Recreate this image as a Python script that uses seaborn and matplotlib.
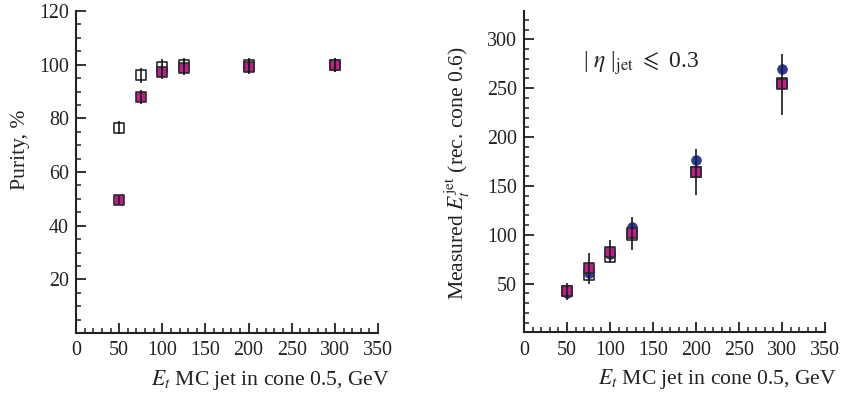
import matplotlib
matplotlib.use("Agg")
import matplotlib.pyplot as plt
from matplotlib.ticker import MultipleLocator
import numpy as np
import pandas as pd
import seaborn as sns

# Jet transverse energy bins (GeV)
et_mc = [50, 75, 100, 125, 200, 300]

# Purity, %
purity_open = [76.5, 96.0, 99.3, 99.8, 99.8, 99.9]
purity_open_err = [2.5, 2.7, 2.7, 2.7, 2.7, 2.7]
purity_fill = [49.5, 88.0, 97.3, 98.8, 99.3, 99.8]
purity_fill_err = [1.5, 2.6, 2.7, 2.7, 2.7, 2.7]

# Measured jet Et (rec. cone 0.6)
meas_open = [42.8, 58.9, 77.0, 99.6, 164.0, 255.0]
meas_circle = [40.2, 60.5, 80.5, 108.4, 176.4, 270.0]
meas_fill = [42.0, 65.8, 82.8, 101.6, 164.4, 253.9]
meas_fill_err = [8.5, 15.7, 12.0, 17.0, 23.5, 31.0]

MAGENTA = "#BE1E8A"
BLUE = "#2B3A9C"
EDGE = "#2a2a2a"
INK = "#222222"

sns.set_style("ticks")
plt.rcParams["font.family"] = ["Liberation Serif", "DejaVu Serif"]
plt.rcParams["mathtext.fontset"] = "stix"
plt.rcParams["axes.linewidth"] = 1.5
plt.rcParams["axes.edgecolor"] = INK
FS = 14.4
LFS = 15.6

fig = plt.figure(figsize=(8.41, 3.98), dpi=100)
ax1 = fig.add_axes([0.0904, 0.1633, 0.3591, 0.809])
ax2 = fig.add_axes([0.6231, 0.1646, 0.3579, 0.8078])

def style_axis(ax, ymax, yminor, yticks):
    ax.set_xlim(0, 350)
    ax.set_ylim(0, ymax)
    ax.xaxis.set_major_locator(MultipleLocator(50))
    ax.xaxis.set_minor_locator(MultipleLocator(10))
    ax.set_yticks(yticks)
    ax.yaxis.set_minor_locator(MultipleLocator(yminor))
    ax.tick_params(which="major", direction="in", length=7.2, width=1.3,
                   labelsize=FS, colors=INK, pad=5)
    ax.tick_params(which="minor", direction="in", length=3.6, width=1.1,
                   colors=INK)
    ax.tick_params(axis="x", which="major", pad=6)
    for s in ("top", "right"):
        ax.spines[s].set_visible(False)
    ax.set_xlabel(r"$E_t$ MC jet in cone 0.5, GeV", fontsize=LFS, ha="right",
                  color=INK)
    ax.xaxis.set_label_coords(1.04, -0.108)

def scatter(ax, x, y, marker, face, size, z, edge=EDGE, lw=1.2):
    df = pd.DataFrame({"x": x, "y": y})
    sns.scatterplot(data=df, x="x", y="y", ax=ax, marker=marker, s=size,
                    color=face, edgecolor=edge, linewidth=lw, zorder=z,
                    legend=False)

def errbars(ax, x, y, err):
    ax.errorbar(x, y, yerr=err, fmt="none", ecolor="#1a1a1a",
                elinewidth=1.2, capsize=0, zorder=5)

# Purity panel
errbars(ax1, et_mc, purity_open, purity_open_err)
errbars(ax1, et_mc, purity_fill, purity_fill_err)
scatter(ax1, et_mc, purity_open, "s", "white", 58, 3)
scatter(ax1, et_mc, purity_fill, "s", MAGENTA, 58, 4)
style_axis(ax1, 120, 5, [20, 40, 60, 80, 100, 120])
ax1.set_ylabel("Purity, %", fontsize=LFS, color=INK)
ax1.yaxis.set_label_coords(-0.152, 0.57)

# Measured energy panel
scatter(ax2, et_mc, meas_open, "s", "white", 58, 3)
scatter(ax2, et_mc, meas_circle, "o", BLUE, 50, 4, edge=BLUE, lw=0.5)
scatter(ax2, et_mc, meas_fill, "s", MAGENTA, 58, 4.5)
errbars(ax2, et_mc, meas_fill, meas_fill_err)
style_axis(ax2, 329, 10, [50, 100, 150, 200, 250, 300])
ax2.set_ylabel(r"Measured $E_t^{\rm jet}$ (rec. cone 0.6)", fontsize=LFS,
               color=INK)
ax2.yaxis.set_label_coords(-0.173, 0.496)
ax2.text(68, 271,
         r"| $\eta$ |$_{\rm jet}$ $\leqslant$ 0.3",
         fontsize=17, color=INK, va="baseline")

fig.savefig("out.png", dpi=100)
